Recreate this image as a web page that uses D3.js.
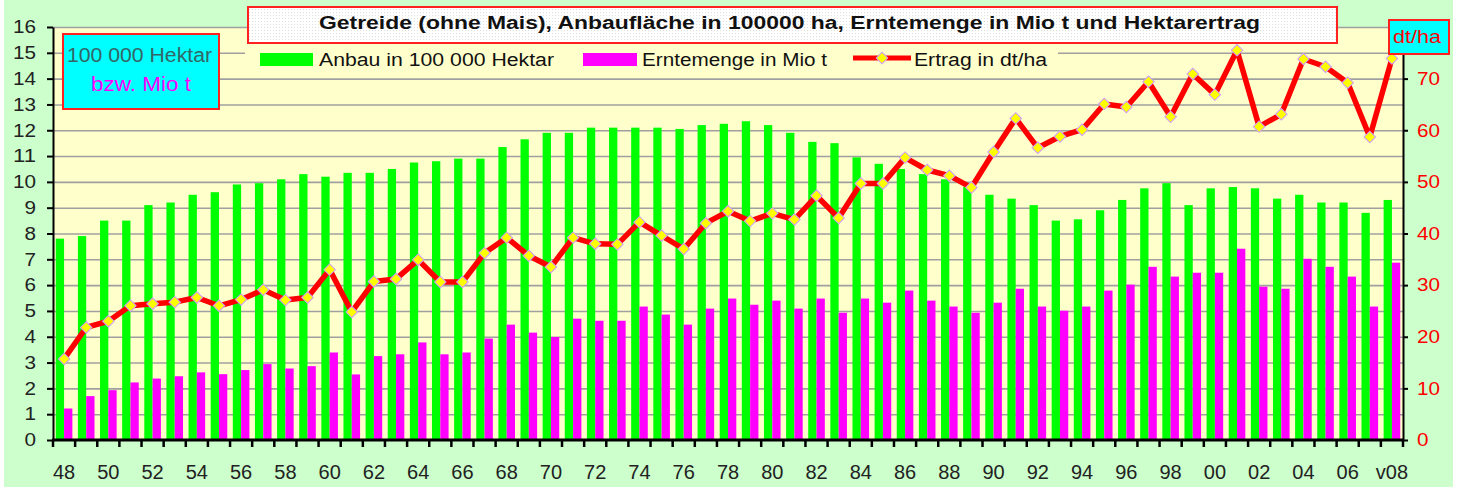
<!DOCTYPE html>
<html>
<head>
<meta charset="utf-8">
<script src="https://cdn.jsdelivr.net/npm/d3@7"></script>
<style>
  body { margin: 0; background: #fff; }
  svg { display: block; font-family: Arial, "Liberation Sans", sans-serif; }
</style>
</head>
<body>
<svg id="chart" width="1461" height="488"></svg>
<script>
// Categories (years 1948 - 2008, last one provisional)
const years = ["48","49","50","51","52","53","54","55","56","57","58","59","60","61","62","63","64","65","66","67",
  "68","69","70","71","72","73","74","75","76","77","78","79","80","81","82","83","84","85","86","87","88","89",
  "90","91","92","93","94","95","96","97","98","99","00","01","02","03","04","05","06","07","v08"];

// Anbau in 100 000 Hektar
const anbau = [7.8,7.9,8.5,8.5,9.1,9.2,9.5,9.6,9.9,9.95,10.1,10.3,10.2,10.35,10.35,10.5,10.75,10.8,10.9,10.9,
  11.35,11.65,11.9,11.9,12.1,12.1,12.1,12.1,12.05,12.2,12.25,12.35,12.2,11.9,11.55,11.5,10.95,10.7,10.5,10.3,10.1,9.8,
  9.5,9.35,9.1,8.5,8.55,8.9,9.3,9.75,9.95,9.1,9.75,9.8,9.75,9.35,9.5,9.2,9.2,8.8,9.3];

// Erntemenge in Mio t
const ernte = [1.22,1.7,1.93,2.23,2.38,2.47,2.62,2.55,2.71,2.94,2.77,2.86,3.39,2.54,3.25,3.32,3.78,3.32,3.39,3.93,
  4.47,4.16,3.99,4.7,4.62,4.62,5.17,4.86,4.47,5.09,5.48,5.24,5.4,5.09,5.48,4.93,5.48,5.32,5.79,5.4,5.17,4.93,
  5.32,5.86,5.17,5.01,5.17,5.79,6.02,6.71,6.33,6.48,6.48,7.41,5.94,5.86,7.02,6.71,6.33,5.17,6.87];

// Ertrag in dt/ha
const ertrag = [15.7,21.8,23.0,26.0,26.4,26.7,27.6,26.0,27.2,29.1,27.1,27.6,33.0,24.8,30.7,31.2,34.9,30.6,30.6,36.2,
  39.2,35.7,33.5,39.2,38.0,37.9,42.2,39.6,37.0,42.0,44.3,42.4,43.9,42.7,47.3,43.0,49.7,49.7,54.7,52.3,51.2,48.9,
  55.8,62.3,56.6,58.8,60.1,65.1,64.5,69.4,62.6,70.9,66.9,75.5,60.7,63.1,73.8,72.3,69.2,58.7,73.9];

// Axis ticks (80 at the top of the right axis sits under the dt/ha box)
const leftTicks = d3.range(0, 17);
const rightTicks = [0, 10, 20, 30, 40, 50, 60, 70];

const title = "Getreide (ohne Mais), Anbaufläche in 100000 ha, Erntemenge in Mio t und Hektarertrag";

const svg = d3.select("#chart");
const plot = { left: 53, right: 1403, top: 27, bottom: 440 };

const x = d3.scaleBand().domain(years).range([plot.left, plot.right])
    .paddingInner(0.25).paddingOuter(0.125);
const xs = d3.scaleBand().domain(["anbau", "ernte"]).range([0, x.bandwidth()]);
const yL = d3.scaleLinear().domain([0, 16]).range([plot.bottom, plot.top]);
const yR = d3.scaleLinear().domain([0, 80]).range([plot.bottom, plot.top]);

// Page background and plot area
svg.append("rect").attr("x", 4).attr("y", 0).attr("width", 1449).attr("height", 487).attr("fill", "#ccffcc");
svg.append("rect").attr("x", plot.left).attr("y", plot.top)
    .attr("width", plot.right - plot.left).attr("height", plot.bottom - plot.top).attr("fill", "#ffffcc");

// Gridlines
const grid = svg.append("g").attr("transform", `translate(${plot.left},0)`)
    .call(d3.axisLeft(yL).tickValues(leftTicks.slice(1)).tickSize(-(plot.right - plot.left)).tickFormat(""));
grid.select(".domain").remove();
grid.selectAll("line").attr("stroke", "#a0a0a0").attr("stroke-width", 1.6);

// Bars
const rows = years.map((d, i) => ({ year: d, anbau: anbau[i], ernte: ernte[i], ertrag: ertrag[i] }));

svg.append("g").selectAll("rect").data(rows).join("rect")
    .attr("x", d => x(d.year) + xs("anbau"))
    .attr("width", xs.bandwidth())
    .attr("y", d => yL(d.anbau))
    .attr("height", d => yL(0) - yL(d.anbau))
    .attr("fill", "#00ff00");

svg.append("g").selectAll("rect").data(rows).join("rect")
    .attr("x", d => x(d.year) + xs("ernte"))
    .attr("width", xs.bandwidth())
    .attr("y", d => yL(d.ernte))
    .attr("height", d => yL(0) - yL(d.ernte))
    .attr("fill", "#ff00ff");

// Yield line
const line = d3.line()
    .x(d => x(d.year) + x.bandwidth() / 2)
    .y(d => yR(d.ertrag));

svg.append("path").datum(rows)
    .attr("d", line)
    .attr("fill", "none")
    .attr("stroke", "#ff0000")
    .attr("stroke-width", 5.5)
    .attr("stroke-linejoin", "round");

const diamond = d3.symbol(d3.symbolSquare, 66);
svg.append("g").selectAll("path").data(rows).join("path")
    .attr("d", diamond)
    .attr("transform", d => `translate(${x(d.year) + x.bandwidth() / 2},${yR(d.ertrag)}) rotate(45)`)
    .attr("fill", "#ffff00")
    .attr("stroke", "#cc99ff")
    .attr("stroke-width", 1);

// Left axis
const axL = svg.append("g").attr("transform", `translate(${plot.left},0)`)
    .call(d3.axisLeft(yL).tickValues(leftTicks).tickSize(6).tickSizeOuter(0).tickPadding(11));
axL.select(".domain").attr("stroke", "#000").attr("stroke-width", 2);
axL.selectAll("line").attr("stroke", "#000").attr("stroke-width", 2);
axL.selectAll("text").attr("font-size", 18).attr("fill", "#222")
    .attr("textLength", d => String(d).length * 11.5).attr("lengthAdjust", "spacingAndGlyphs");

// Right axis
const axR = svg.append("g").attr("transform", `translate(${plot.right},0)`)
    .call(d3.axisRight(yR).tickValues(rightTicks).tickSize(5).tickSizeOuter(0).tickPadding(9));
axR.select(".domain").attr("stroke", "#000").attr("stroke-width", 2);
axR.selectAll("line").attr("stroke", "#000").attr("stroke-width", 2);
axR.selectAll("text").attr("font-size", 18).attr("fill", "#ff0000")
    .attr("textLength", d => String(d).length * 11.5).attr("lengthAdjust", "spacingAndGlyphs");

// Bottom axis: tick marks at category boundaries, labels every other year
const bounds = years.map(d => x(d) - x.step() * x.paddingInner() / 2).concat([plot.right]);
svg.append("g").selectAll("line").data(bounds).join("line")
    .attr("x1", d => d).attr("x2", d => d)
    .attr("y1", plot.bottom).attr("y2", plot.bottom + 7)
    .attr("stroke", "#000").attr("stroke-width", 2.5);
svg.append("line")
    .attr("x1", plot.left - 1).attr("x2", plot.right + 1)
    .attr("y1", plot.bottom).attr("y2", plot.bottom)
    .attr("stroke", "#000").attr("stroke-width", 3);

const axB = svg.append("g").attr("transform", `translate(0,${plot.bottom})`)
    .call(d3.axisBottom(x).tickValues(years.filter((d, i) => i % 2 === 0)).tickSize(0).tickPadding(25));
axB.select(".domain").remove();
axB.selectAll("text").attr("font-size", 20).attr("fill", "#222");

// Legend
svg.append("rect").attr("x", 245).attr("y", 44).attr("width", 813).attr("height", 26).attr("fill", "#ffffcc");
const legend = svg.append("g").attr("font-size", 18).attr("fill", "#111");
legend.append("rect").attr("x", 260).attr("y", 53).attr("width", 53).attr("height", 13).attr("fill", "#00ff00");
legend.append("text").attr("x", 319).attr("y", 66)
    .attr("textLength", 235).attr("lengthAdjust", "spacingAndGlyphs").text("Anbau in 100 000 Hektar");
legend.append("rect").attr("x", 583).attr("y", 53).attr("width", 54).attr("height", 13).attr("fill", "#ff00ff");
legend.append("text").attr("x", 642).attr("y", 66)
    .attr("textLength", 185).attr("lengthAdjust", "spacingAndGlyphs").text("Erntemenge in Mio t");
legend.append("line").attr("x1", 853).attr("x2", 911).attr("y1", 58).attr("y2", 58)
    .attr("stroke", "#ff0000").attr("stroke-width", 5);
legend.append("path").attr("d", diamond).attr("transform", "translate(882,58) rotate(45)")
    .attr("fill", "#ffff00").attr("stroke", "#cc99ff").attr("stroke-width", 1);
legend.append("text").attr("x", 914).attr("y", 66)
    .attr("textLength", 133).attr("lengthAdjust", "spacingAndGlyphs").text("Ertrag in dt/ha");

// Title box
const defs = svg.append("defs");
const pat = defs.append("pattern").attr("id", "dots").attr("width", 3).attr("height", 3)
    .attr("patternUnits", "userSpaceOnUse");
pat.append("rect").attr("width", 3).attr("height", 3).attr("fill", "#ffffff");
pat.append("rect").attr("width", 1).attr("height", 1).attr("fill", "#dedede");

svg.append("rect").attr("x", 248).attr("y", 7).attr("width", 1089).attr("height", 36)
    .attr("fill", "url(#dots)").attr("stroke", "#ff2020").attr("stroke-width", 2);
svg.append("text").attr("x", 319).attr("y", 29)
    .attr("font-size", 18).attr("font-weight", "bold").attr("fill", "#111")
    .attr("textLength", 941).attr("lengthAdjust", "spacingAndGlyphs").text(title);

// Unit boxes
svg.append("rect").attr("x", 63).attr("y", 34).attr("width", 156).attr("height", 75)
    .attr("fill", "#00ffff").attr("stroke", "#ff2020").attr("stroke-width", 2);
svg.append("text").attr("x", 67).attr("y", 62).attr("font-size", 20).attr("fill", "#336666")
    .attr("textLength", 145).attr("lengthAdjust", "spacingAndGlyphs").text("100 000 Hektar");
svg.append("text").attr("x", 91).attr("y", 91).attr("font-size", 20).attr("fill", "#ff00ff")
    .attr("textLength", 100).attr("lengthAdjust", "spacingAndGlyphs").text("bzw. Mio t");

svg.append("rect").attr("x", 1389).attr("y", 20).attr("width", 60).attr("height", 34)
    .attr("fill", "#00ffff").attr("stroke", "#ff2020").attr("stroke-width", 2);
svg.append("text").attr("x", 1393).attr("y", 43).attr("font-size", 19).attr("fill", "#ff0000")
    .attr("textLength", 48).attr("lengthAdjust", "spacingAndGlyphs").text("dt/ha");
</script>
</body>
</html>
